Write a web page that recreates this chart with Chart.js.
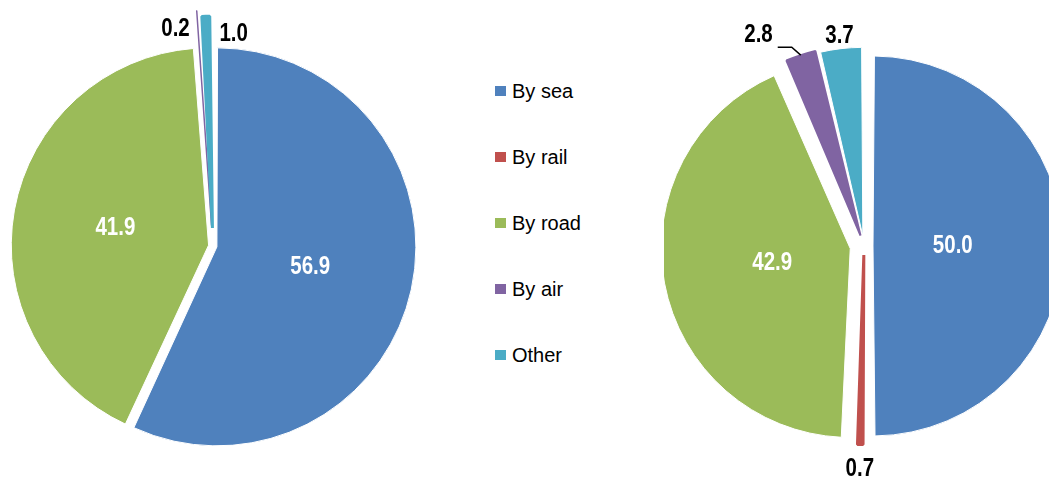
<!DOCTYPE html>
<html>
<head>
<meta charset="utf-8">
<script src="https://cdn.jsdelivr.net/npm/chart.js@4/dist/chart.umd.min.js"></script>
<style>
  html, body { margin: 0; padding: 0; overflow: hidden; background: #fff; }
  body { position: relative; width: 1049px; height: 478px; }
  #leftPie { position: absolute; left: 0; top: 0; }
  #rightPie { position: absolute; left: 664px; top: 0; }
  #legend { position: absolute; left: 495px; top: 58px; font: 20px "Liberation Sans", Arial, sans-serif; color: #000; }
  #legend .item { height: 66px; display: flex; align-items: center; }
  #legend .swatch { display: inline-block; width: 11px; height: 10px; margin-right: 6px; }
</style>
</head>
<body>
<canvas id="leftPie" width="426" height="492"></canvas>
<div id="legend"></div>
<canvas id="rightPie" width="400" height="492"></canvas>
<script>
const categories = ["By sea", "By rail", "By road", "By air", "Other"];
const colors = ["#4F81BD", "#C0504D", "#9BBB59", "#8064A2", "#4BACC6"];
const leftValues = [56.9, 0, 41.9, 0.2, 1.0];
const rightValues = [50.0, 0.7, 42.9, 2.8, 3.7];

const labelFont = 'bold 25px "Liberation Sans", Arial, sans-serif';
const narrow = 0.82; // squeeze the bold font to look like a narrow face

function narrowText(ctx, text, x, y) {
  ctx.save();
  ctx.translate(x, y);
  ctx.scale(narrow, 1);
  ctx.fillText(text, 0, 0);
  ctx.restore();
}

// draws the value labels next to / inside each slice
const sliceLabels = {
  id: 'sliceLabels',
  afterDatasetsDraw(chart, args, opts) {
    const ctx = chart.ctx;
    const meta = chart.getDatasetMeta(0);
    const values = chart.data.datasets[0].data;
    ctx.save();
    ctx.font = labelFont;
    ctx.textBaseline = 'middle';
    meta.data.forEach((arc, i) => {
      const mode = opts.modes[i];
      if (!mode || !values[i]) return;
      const p = arc.getProps(['x', 'y', 'startAngle', 'endAngle', 'outerRadius']);
      const off = (arc.options.offset || 0) / 4;
      const circ = p.endAngle - p.startAngle;
      const mid = (p.startAngle + p.endAngle) / 2;
      const drawnR = p.outerRadius + off * (1 - Math.sin(Math.min(Math.PI, circ)));
      const vx = p.x + Math.cos(mid) * off;
      const vy = p.y + Math.sin(mid) * off;
      const cos = Math.cos(mid), sin = Math.sin(mid);
      const text = values[i].toFixed(1);
      const w = ctx.measureText(text).width * narrow;
      const gap = (opts.gaps && opts.gaps[i]) || 0;

      if (mode === 'inside') {
        const k = opts.inset || 0.48;
        ctx.fillStyle = '#fff';
        ctx.textAlign = 'center';
        narrowText(ctx, text, vx + cos * drawnR * k, vy + sin * drawnR * k);
      } else if (mode === 'outside') {
        const ext = Math.abs(cos) * w / 2 + Math.abs(sin) * 10;
        const d = drawnR + 4 + gap + ext;
        ctx.fillStyle = '#000';
        ctx.textAlign = 'center';
        narrowText(ctx, text, vx + cos * d, vy + sin * d);
      } else if (mode === 'left' || mode === 'right') {
        const rho = drawnR - 18;
        const half = circ / 2 * rho + 7;
        ctx.fillStyle = '#000';
        ctx.textAlign = mode === 'left' ? 'right' : 'left';
        const x = vx + cos * rho + (mode === 'left' ? -half : half);
        narrowText(ctx, text, x, vy + sin * rho);
      } else if (mode === 'leader') {
        const x0 = vx + cos * drawnR, y0 = vy + sin * drawnR;
        const x1 = x0 - 9, y1 = y0 - 8;
        const x2 = x1 - 14;
        ctx.strokeStyle = '#000';
        ctx.lineWidth = 1.5;
        ctx.beginPath();
        ctx.moveTo(x0, y0);
        ctx.lineTo(x1, y1);
        ctx.lineTo(x2, y1);
        ctx.stroke();
        ctx.fillStyle = '#000';
        ctx.textAlign = 'right';
        narrowText(ctx, text, x2 - 5, y1 - 12);
      }
    });
    ctx.restore();
  }
};

function makePie(id, values, radius, offsets, borderColors, borderWidths, labelOpts) {
  const ctx = document.getElementById(id).getContext('2d');
  return new Chart(ctx, {
    type: 'pie',
    data: {
      labels: categories,
      datasets: [{
        data: values,
        backgroundColor: colors,
        borderColor: borderColors,
        borderWidth: borderWidths,
        offset: offsets,
        hoverOffset: 0
      }]
    },
    options: {
      responsive: false,
      animation: false,
      radius: radius,
      plugins: {
        legend: { display: false },
        tooltip: { enabled: false },
        sliceLabels: labelOpts
      }
    },
    plugins: [sliceLabels]
  });
}

makePie('leftPie', leftValues, 195,
  [16, 0, 18, 82, 72],
  ['#fff', '#fff', '#fff', '#8064A2', '#4BACC6'],
  [1, 1, 1, 1.5, 3],
  { modes: ['inside', null, 'inside', 'left', 'right'], inset: 0.48 });

makePie('rightPie', rightValues, 181,
  [36, 36, 56, 44, 40],
  ['#fff', '#C0504D', '#fff', '#8064A2', '#fff'],
  [1, 3, 1, 2, 1],
  { modes: ['inside', 'outside', 'inside', 'leader', 'outside'], inset: 0.42, gaps: [0, 10, 0, 0, -3] });

// legend built from the same categories / colours
const legendBox = document.getElementById('legend');
categories.forEach((name, i) => {
  const row = document.createElement('div');
  row.className = 'item';
  row.innerHTML = `<span class="swatch" style="background:${colors[i]}"></span>${name}`;
  legendBox.appendChild(row);
});
</script>
</body>
</html>
